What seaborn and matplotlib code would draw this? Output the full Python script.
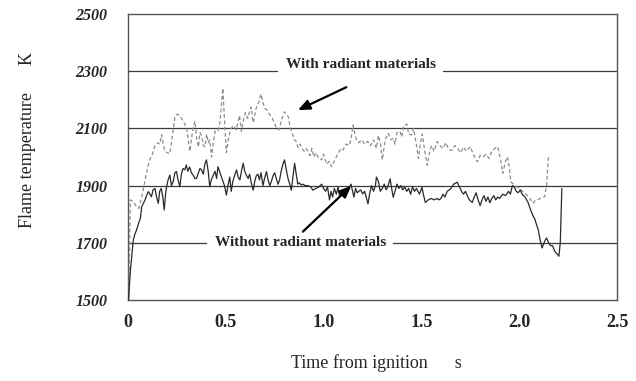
import numpy as np
import pandas as pd
import matplotlib
matplotlib.use("Agg")
import matplotlib.pyplot as plt
import seaborn as sns

# ---- data ----
t_with = [0.005, 0.012, 0.025, 0.04, 0.055, 0.07, 0.085, 0.095, 0.11, 0.125, 0.138, 0.15, 0.162, 0.172, 0.18,
          0.189, 0.2, 0.214, 0.228, 0.24, 0.252, 0.265, 0.278, 0.29, 0.3, 0.316, 0.33, 0.342, 0.352, 0.36,
          0.368, 0.376, 0.385, 0.393, 0.402, 0.41, 0.418, 0.427, 0.436, 0.445, 0.46, 0.47, 0.485, 0.493, 0.503,
          0.515, 0.527, 0.54, 0.552, 0.562, 0.57, 0.58, 0.59, 0.6, 0.612, 0.622, 0.63, 0.64, 0.655, 0.668,
          0.68, 0.69, 0.7, 0.71, 0.722, 0.735, 0.748, 0.76, 0.772, 0.785, 0.8, 0.81, 0.82, 0.83, 0.84,
          0.85, 0.86, 0.87, 0.88, 0.89, 0.9, 0.91, 0.92, 0.93, 0.94, 0.95, 0.96, 0.975, 0.99, 1.0,
          1.015, 1.03, 1.04, 1.05, 1.065, 1.08, 1.09, 1.1, 1.115, 1.13, 1.14, 1.15, 1.16, 1.17, 1.18,
          1.195, 1.21, 1.225, 1.24, 1.255, 1.27, 1.28, 1.29, 1.3, 1.315, 1.33, 1.345, 1.356, 1.365, 1.375,
          1.39, 1.4, 1.41, 1.425, 1.435, 1.45, 1.46, 1.475, 1.485, 1.495, 1.505, 1.515, 1.53, 1.54, 1.552,
          1.565, 1.58, 1.595, 1.61, 1.625, 1.64, 1.658, 1.67, 1.685, 1.7, 1.715, 1.73, 1.75, 1.765, 1.786,
          1.8, 1.815, 1.83, 1.845, 1.86, 1.875, 1.89, 1.905, 1.916, 1.93, 1.94, 1.95, 1.957, 1.974, 1.99,
          2.01, 2.025, 2.04, 2.055, 2.07, 2.085, 2.1, 2.115, 2.13, 2.14, 2.145, 2.15]
temp_with = [1540, 1850, 1845, 1830, 1820, 1860, 1910, 1945, 1990, 2010, 2040, 2050, 2045, 2078, 2045,
             2020, 2015, 2012, 2080, 2140, 2150, 2145, 2130, 2115, 2100, 2020, 2090, 2125, 2060, 2035,
             2085, 2075, 2040, 2035, 2080, 2050, 2060, 2000, 2050, 2090, 2090, 2120, 2240, 2130, 2015,
             2070, 2100, 2110, 2095, 2120, 2145, 2090, 2130, 2155, 2135, 2160, 2175, 2120, 2170, 2190,
             2220, 2190, 2170, 2165, 2150, 2140, 2120, 2100, 2095, 2130, 2158, 2150, 2140, 2100, 2083,
             2060, 2055, 2033, 2045, 2030, 2020, 2030, 2020, 2005, 2030, 2000, 2015, 1995, 1990, 2010,
             1975, 1985, 1966, 1980, 2000, 2020, 2030, 2025, 2045, 2040, 2060, 2112, 2080, 2055, 2050,
             2060, 2045, 2055, 2040, 2060, 2030, 2075, 2050, 1990, 2060, 2083, 2060, 2065, 2045, 2085,
             2090, 2070, 2110, 2115, 2080, 2077, 2100, 2040, 1995, 2050, 2080, 2030, 1971, 2010, 2040,
             2020, 2054, 2040, 2030, 2050, 2025, 2024, 2040, 2030, 2015, 2035, 2020, 2036, 2010, 1983,
             2005, 2000, 2010, 1995, 2020, 2030, 2036, 1990, 1943, 1985, 2001, 1960, 1914, 1902, 1895,
             1884, 1875, 1867, 1855, 1838, 1850, 1852, 1858, 1861, 1900, 1960, 2007]

t_without = [0.003, 0.008, 0.012, 0.019, 0.027, 0.035, 0.044, 0.055, 0.063, 0.07, 0.08, 0.087, 0.095, 0.104,
             0.112, 0.12, 0.128, 0.138, 0.146, 0.155, 0.162, 0.17, 0.178, 0.185, 0.192, 0.197, 0.205, 0.214,
             0.222, 0.231, 0.24, 0.248, 0.256, 0.265, 0.273, 0.281, 0.29, 0.298, 0.306, 0.315, 0.324, 0.333,
             0.342, 0.35, 0.36, 0.368, 0.376, 0.385, 0.393, 0.401, 0.41, 0.418, 0.426, 0.435, 0.445, 0.453,
             0.46, 0.468, 0.476, 0.485, 0.493, 0.503, 0.511, 0.52, 0.528, 0.536, 0.545, 0.555, 0.563, 0.572,
             0.58, 0.589, 0.597, 0.606, 0.614, 0.622, 0.63, 0.64, 0.648, 0.656, 0.664, 0.672, 0.68, 0.69,
             0.698, 0.708, 0.716, 0.725, 0.733, 0.742, 0.75, 0.758, 0.767, 0.775, 0.783, 0.792, 0.8, 0.808,
             0.818, 0.827, 0.835, 0.843, 0.852, 0.86, 0.868, 0.876, 0.885, 0.895, 0.905, 0.92, 0.935, 0.945,
             0.96, 0.975, 0.99, 1.0, 1.01, 1.02, 1.03, 1.038, 1.046, 1.055, 1.065, 1.074, 1.082, 1.09, 1.1,
             1.11, 1.124, 1.132, 1.14, 1.148, 1.155, 1.163, 1.172, 1.18, 1.19, 1.2, 1.21, 1.227, 1.235, 1.245,
             1.255, 1.265, 1.27, 1.28, 1.29, 1.3, 1.31, 1.32, 1.33, 1.34, 1.348, 1.356, 1.365, 1.375, 1.385,
             1.395, 1.405, 1.415, 1.425, 1.435, 1.445, 1.455, 1.465, 1.475, 1.49, 1.503, 1.51, 1.52, 1.535,
             1.55, 1.565, 1.58, 1.59, 1.6, 1.61, 1.62, 1.632, 1.65, 1.665, 1.683, 1.695, 1.705, 1.715, 1.725,
             1.735, 1.745, 1.76, 1.77, 1.78, 1.79, 1.8, 1.81, 1.82, 1.83, 1.84, 1.85, 1.86, 1.87, 1.88, 1.89,
             1.9, 1.915, 1.93, 1.945, 1.955, 1.965, 1.976, 1.985, 1.995, 2.005, 2.015, 2.03, 2.045, 2.06,
             2.07, 2.08, 2.09, 2.097, 2.107, 2.117, 2.127, 2.135, 2.14, 2.15, 2.16, 2.17, 2.182, 2.195, 2.203,
             2.21, 2.214, 2.218]
temp_without = [1500, 1560, 1600, 1651, 1710, 1730, 1745, 1770, 1785, 1826, 1840, 1850, 1865, 1879,
                1870, 1861, 1885, 1890, 1860, 1838, 1880, 1890, 1860, 1815, 1870, 1896, 1920, 1937,
                1900, 1914, 1945, 1949, 1920, 1896, 1940, 1960, 1955, 1972, 1950, 1965, 1945, 1937,
                1925, 1925, 1945, 1960, 1955, 1940, 1975, 1990, 1950, 1896, 1920, 1935, 1950, 1925,
                1966, 1950, 1935, 1915, 1900, 1867, 1900, 1930, 1880, 1915, 1935, 1955, 1930, 1920,
                1950, 1978, 1950, 1935, 1925, 1940, 1910, 1884, 1915, 1935, 1940, 1920, 1945, 1900,
                1925, 1949, 1920, 1900, 1915, 1935, 1945, 1925, 1905, 1920, 1950, 1975, 1990, 1960,
                1925, 1905, 1884, 1930, 1978, 1940, 1905, 1910, 1902, 1905, 1900, 1900, 1895, 1884,
                1890, 1895, 1905, 1890, 1880, 1895, 1850, 1880, 1860, 1890, 1870, 1895, 1860, 1875, 1885,
                1870, 1879, 1895, 1905, 1880, 1860, 1890, 1875, 1880, 1885, 1871, 1880, 1836, 1870, 1900,
                1880, 1900, 1930, 1915, 1880, 1890, 1905, 1885, 1900, 1924, 1890, 1859, 1880, 1905, 1890,
                1900, 1885, 1895, 1880, 1890, 1870, 1895, 1880, 1890, 1870, 1894, 1870, 1841, 1850,
                1855, 1850, 1855, 1850, 1855, 1870, 1860, 1880, 1889, 1905, 1912, 1895, 1880, 1870, 1880,
                1865, 1850, 1841, 1860, 1875, 1850, 1830, 1850, 1865, 1845, 1860, 1840, 1855, 1865, 1850, 1860,
                1855, 1870, 1865, 1880, 1870, 1900, 1894, 1880, 1875, 1885, 1870, 1860, 1841, 1812,
                1795, 1783, 1760, 1747, 1710, 1682, 1700, 1712, 1717, 1700, 1690, 1690, 1670, 1660, 1653,
                1700, 1800, 1890]

x_ticks = [0, 0.5, 1.0, 1.5, 2.0, 2.5]
x_tick_labels = ["0", "0.5", "1.0", "1.5", "2.0", "2.5"]
y_ticks = [1500, 1700, 1900, 2100, 2300, 2500]
y_tick_labels = ["1500", "1700", "1900", "2100", "2300", "2500"]
label_with = "With radiant materials"
label_without = "Without radiant materials"

df = pd.concat([
    pd.DataFrame({"t": t_with, "T": temp_with, "series": label_with}),
    pd.DataFrame({"t": t_without, "T": temp_without, "series": label_without}),
], ignore_index=True)

sns.set_style("white")
plt.rcParams['font.family'] = ['Liberation Serif', 'DejaVu Serif']

fig = plt.figure(figsize=(6.36, 3.81), dpi=100)
ax = fig.add_axes([128/636, 1 - 300/381, (617-128)/636, (300-14)/381])

# horizontal grid lines
for yv in [1700, 1900, 2100, 2300]:
    ax.axhline(yv, color="#3a3a3a", lw=0.9, zorder=1)

sns.lineplot(data=df[df.series == label_with], x="t", y="T", ax=ax, color="#8c8c8c",
             lw=0.9, linestyle=(0, (3, 2)), estimator=None, sort=False, zorder=4, legend=False)
sns.lineplot(data=df[df.series == label_without], x="t", y="T", ax=ax, color="#2a2a2a",
             lw=0.9, estimator=None, sort=False, zorder=5, legend=False)

ax.set_xlim(0, 2.5)
ax.set_ylim(1500, 2500)
ax.set_xticks(x_ticks)
ax.set_xticklabels(x_tick_labels, fontsize=13, fontweight="bold")
ax.set_yticks(y_ticks)
ax.set_yticklabels(y_tick_labels, fontsize=11.5, fontweight="bold", fontstyle="italic")
ax.tick_params(axis="x", direction="in", length=4, width=0.8, pad=10, color="#555555")
ax.tick_params(axis="y", direction="in", length=0, pad=15)
for s in ax.spines.values():
    s.set_color("#555555")
    s.set_linewidth(1.0)

ax.set_xlabel("")
ax.set_ylabel("")
fig.text(376/636, 1 - 363/381, "Time from ignition      s", fontsize=13, ha="center", va="center")
fig.text(28/636, 1 - 140/381, "Flame temperature      K", fontsize=13, ha="center", va="center",
         rotation=90)

# annotation labels with white boxes interrupting grid lines
ax.text(1.19, 2300, label_with, fontsize=11, fontweight="bold", ha="center", va="bottom",
        bbox=dict(boxstyle="square,pad=0.5", facecolor="white", edgecolor="none"), zorder=3)
ax.text(0.88, 1700, label_without, fontsize=11, fontweight="bold", ha="center", va="center",
        bbox=dict(boxstyle="square,pad=0.5", facecolor="white", edgecolor="none"), zorder=3)

arrow = dict(arrowstyle="-|>,head_length=0.7,head_width=0.3", color="black", lw=1.6, shrinkA=0, shrinkB=0)
ax.annotate("", xy=(0.869, 2164), xytext=(1.116, 2244), arrowprops=arrow, zorder=6)
ax.annotate("", xy=(1.141, 1899), xytext=(0.894, 1739), arrowprops=arrow, zorder=6)

fig.savefig("out.png", dpi=100)
